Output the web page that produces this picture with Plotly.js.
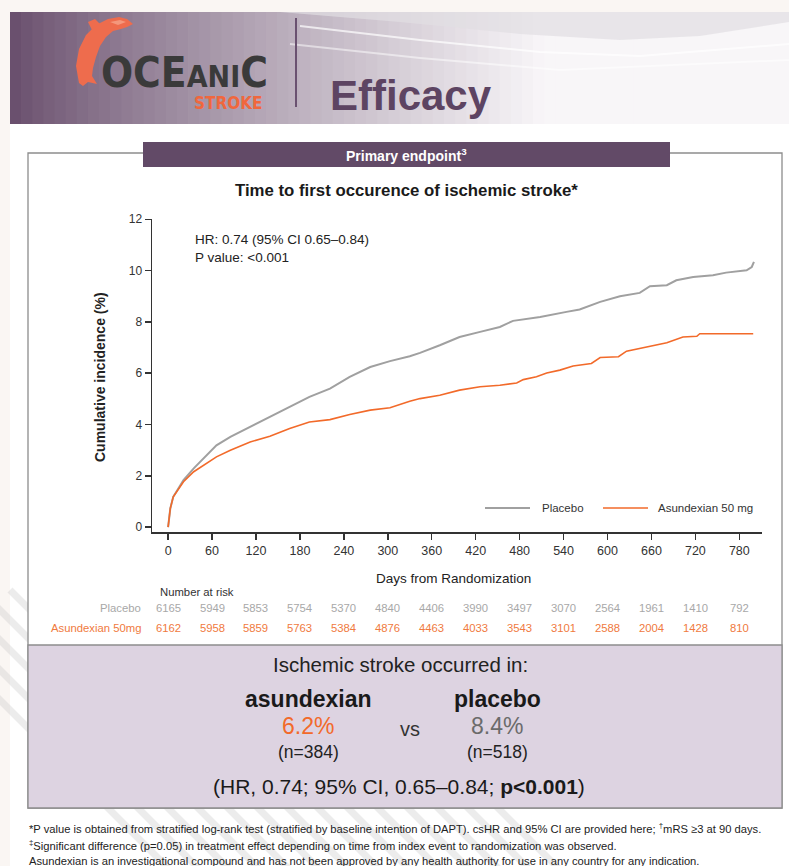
<!DOCTYPE html>
<html>
<head>
<meta charset="utf-8">
<script src="https://cdn.plot.ly/plotly-3.0.1.min.js"></script>
<style>html,body{margin:0;padding:0;background:#fff;}#chart{width:789px;height:866px;}</style>
</head>
<body>
<div id="chart"></div>
<script>
// ---- data ----
const placeboDays = [0, 3, 7, 14, 21, 35, 48, 66, 85, 112, 139, 166, 193, 221, 248, 276, 303, 330, 344, 371, 398, 426, 453, 471, 508, 544, 562, 590, 617, 644, 658, 681, 694, 717, 744, 762, 790, 797, 800];
const placeboVals = [0, 0.73, 1.18, 1.5, 1.83, 2.29, 2.68, 3.19, 3.52, 3.91, 4.3, 4.71, 5.08, 5.4, 5.86, 6.24, 6.47, 6.66, 6.79, 7.09, 7.41, 7.61, 7.8, 8.04, 8.19, 8.39, 8.48, 8.78, 9.0, 9.13, 9.39, 9.43, 9.62, 9.75, 9.82, 9.92, 10.01, 10.14, 10.34];
const asunDays = [0, 3, 7, 14, 21, 35, 48, 66, 85, 112, 139, 166, 193, 221, 248, 276, 303, 330, 344, 371, 398, 426, 453, 476, 485, 503, 517, 535, 553, 578, 590, 615, 626, 653, 681, 703, 722, 726, 799];
const asunVals = [0, 0.73, 1.18, 1.5, 1.77, 2.16, 2.39, 2.74, 3.0, 3.32, 3.54, 3.84, 4.1, 4.19, 4.39, 4.56, 4.65, 4.91, 5.01, 5.14, 5.34, 5.47, 5.53, 5.62, 5.75, 5.86, 6.01, 6.12, 6.28, 6.38, 6.61, 6.64, 6.86, 7.02, 7.19, 7.41, 7.44, 7.54, 7.54];
const xTicks = [0, 60, 120, 180, 240, 300, 360, 420, 480, 540, 600, 660, 720, 780];
const yTicks = [0, 2, 4, 6, 8, 10, 12];
const riskPlacebo = [6165, 5949, 5853, 5754, 5370, 4840, 4406, 3990, 3497, 3070, 2564, 1961, 1410, 792];
const riskAsun = [6162, 5958, 5859, 5763, 5384, 4876, 4463, 4033, 3543, 3101, 2588, 2004, 1428, 810];
const seriesNames = ['Placebo', 'Asundexian 50 mg'];
const riskLabels = ['Placebo', 'Asundexian 50mg'];

// ---- geometry helpers (pixel -> paper) ----
const L = 152, R = 762, T = 219, B = 532;
const X = px => (px - L) / (R - L);
const Y = py => (B - py) / (B - T);
const FONT = 'Liberation Sans, Arial, sans-serif';
const NARROW = 'Liberation Sans Narrow, Arial Narrow, DejaVu Sans Condensed, sans-serif';
const GRAY = '#a0a0a0', ORANGE = '#f26a2a';

const shapes = [];
function rect(x0, y0, x1, y1, fill, line) {
  shapes.push({type: 'rect', xref: 'paper', yref: 'paper', x0: X(x0), x1: X(x1), y0: Y(y1), y1: Y(y0),
    fillcolor: fill, line: line || {width: 0}, layer: 'below'});
}
function pathPx(pts, fill, line) {
  let d = pts.map((p, i) => (i ? 'L' : 'M') + X(p[0]) + ',' + Y(p[1])).join(' ') + (fill ? ' Z' : '');
  shapes.push({type: 'path', xref: 'paper', yref: 'paper', path: d, fillcolor: fill || 'rgba(0,0,0,0)',
    line: line || {width: 0}, layer: 'below'});
}
function lerp(a, b, t) { return Math.round(a + (b - a) * t); }

// background off-white margins
rect(0, 0, 789, 12, '#faf6f3');
rect(0, 0, 10, 866, '#faf6f3');
// diagonal stripes bottom-left
for (let i = 0; i < 14; i++) {
  const x0 = 10 + i * 30 - 120, y0 = 590;
  pathPx([[x0, y0], [x0 + 280, y0 + 280]], null, {color: 'rgba(200,200,200,0.35)', width: 7});
}
// header gradient band
const N = 70, hx0 = 10, hx1 = 789;
for (let i = 0; i < N; i++) {
  const t = i / (N - 1);
  const e = Math.min(1, Math.pow(t * 1.45, 0.85));
  const c = 'rgb(' + lerp(106, 248, e) + ',' + lerp(80, 246, e) + ',' + lerp(110, 248, e) + ')';
  rect(hx0 + (hx1 - hx0) * i / N, 12, hx0 + (hx1 - hx0) * (i + 1) / N + 0.8, 124, c);
}
// swoosh curves at top of header
pathPx([[280, 12], [400, 22], [520, 34], [620, 40], [700, 36], [789, 22], [789, 12]], 'rgba(225,222,226,0.7)');
pathPx([[300, 26], [420, 40], [540, 52], [640, 56], [789, 44]], null, {color: 'rgba(255,255,255,0.7)', width: 2});
pathPx([[290, 44], [420, 58], [560, 70], [789, 60]], null, {color: 'rgba(255,255,255,0.5)', width: 2});
// dolphin logo
pathPx([[79, 83], [76, 66], [79, 49], [86, 35], [96, 25], [108, 19], [119, 17], [127, 19], [133, 24], [127, 27],
        [121, 29], [113, 31], [106, 37], [100, 46], [96, 57], [93, 68], [92, 76], [97, 84], [88, 82], [83, 86]], '#ee6c4d');
pathPx([[92, 30], [88, 22], [95, 19], [100, 24]], '#ee6c4d');
pathPx([[110, 22], [120, 20], [126, 22], [118, 25]], '#f4977c');
// divider line
shapes.push({type: 'line', xref: 'paper', yref: 'paper', x0: X(296), x1: X(296), y0: Y(18), y1: Y(107),
  line: {color: '#6a5170', width: 2}, layer: 'below'});
// main white box with border
rect(28, 153, 782, 808, '#ffffff', {color: '#8d8d8d', width: 1.3});
// lavender results box
rect(28, 645, 782, 808, '#ddd3e1', {color: '#8d8d8d', width: 1.3});
// tab
rect(143, 142, 670, 167, '#624a67');
// legend line samples
shapes.push({type: 'line', xref: 'paper', yref: 'paper', x0: X(485), x1: X(530), y0: Y(508), y1: Y(508),
  line: {color: GRAY, width: 2}});
shapes.push({type: 'line', xref: 'paper', yref: 'paper', x0: X(603), x1: X(648), y0: Y(508), y1: Y(508),
  line: {color: ORANGE, width: 1.6}});

// ---- annotations ----
const ann = [];
function txt(text, px, py, size, color, opts) {
  ann.push(Object.assign({text: text, xref: 'paper', yref: 'paper', x: X(px), y: Y(py), showarrow: false,
    xanchor: 'center', yanchor: 'middle', font: {family: FONT, size: size, color: color}}, opts || {}));
}
// header texts
txt('<b>OCE<span style="font-size:30px">ANI</span>C</b>', 184, 72, 42, '#3a3a3a', {font: {family: NARROW, size: 42, color: '#3a3a3a'}});
txt('<b>STROKE</b>', 265, 103, 17, '#f0673d', {xanchor: 'right', font: {family: NARROW, size: 17, color: '#f0673d'}});
txt('<b>Efficacy</b>', 328, 96, 42, '#5d4462', {xanchor: 'left'});
txt('<b>Primary endpoint<sup>3</sup></b>', 406, 155, 14, '#ffffff');
txt('<b>Time to first occurence of ischemic stroke*</b>', 406, 191, 16.8, '#1a1a1a');
txt('HR: 0.74 (95% CI 0.65–0.84)<br>P value: &lt;0.001', 193, 248, 13.5, '#222', {xanchor: 'left', align: 'left'});
txt('Days from Randomization', 453, 578, 13.5, '#222');
txt('<b>Cumulative incidence (%)</b>', 100, 377, 14, '#222', {textangle: -90});
// legend texts
txt(seriesNames[0], 540, 508, 11.5, '#333', {xanchor: 'left'});
txt(seriesNames[1], 656, 508, 11.5, '#333', {xanchor: 'left'});
// number at risk
txt('Number at risk', 158, 592, 11.3, '#333', {xanchor: 'left'});
txt(riskLabels[0], 143, 608, 11.3, '#a8a8a8', {xanchor: 'right'});
txt(riskLabels[1], 143, 628, 11.3, '#f07a40', {xanchor: 'right'});
xTicks.forEach((d, i) => {
  ann.push({text: String(riskPlacebo[i]), xref: 'x', yref: 'paper', x: d, y: Y(608), showarrow: false,
    xanchor: 'center', yanchor: 'middle', font: {family: FONT, size: 11.3, color: '#a8a8a8'}});
  ann.push({text: String(riskAsun[i]), xref: 'x', yref: 'paper', x: d, y: Y(628), showarrow: false,
    xanchor: 'center', yanchor: 'middle', font: {family: FONT, size: 11.3, color: '#f07a40'}});
});
// results box
txt('Ischemic stroke occurred in:', 400, 664, 20.5, '#222');
txt('<b>asundexian</b>', 308, 699, 23, '#1a1a1a');
txt('<b>placebo</b>', 497, 699, 23, '#1a1a1a');
txt('6.2%', 308, 726, 23, '#f26a2a');
txt('vs', 410, 729, 20, '#333');
txt('8.4%', 497, 726, 23, '#6b6b6b');
txt('(n=384)', 308, 752, 17.5, '#222');
txt('(n=518)', 497, 752, 17.5, '#222');
txt('(HR, 0.74; 95% CI, 0.65–0.84; <b>p&lt;0.001</b>)', 399, 786, 21, '#1a1a1a');
// footnotes
const fn = [
  '*P value is obtained from stratified log-rank test (stratified by baseline intention of DAPT). csHR and 95% CI are provided here; <sup>†</sup>mRS ≥3 at 90 days.',
  '<sup>‡</sup>Significant difference (p=0.05) in treatment effect depending on time from index event to randomization was observed.',
  'Asundexian is an investigational compound and has not been approved by any health authority for use in any country for any indication.'
];
fn.forEach((t, i) => txt(t, 27, 828 + i * 16.5, 11.2, '#222', {xanchor: 'left'}));

// ---- traces ----
const traces = [
  {x: placeboDays, y: placeboVals, type: 'scatter', mode: 'lines', name: seriesNames[0],
   line: {color: GRAY, width: 2, shape: 'linear'}},
  {x: asunDays, y: asunVals, type: 'scatter', mode: 'lines', name: seriesNames[1],
   line: {color: ORANGE, width: 1.6, shape: 'linear'}}
];

const layout = {
  width: 789, height: 866,
  margin: {l: L, r: 789 - R, t: T, b: 866 - B, pad: 0},
  paper_bgcolor: '#ffffff', plot_bgcolor: 'rgba(0,0,0,0)',
  font: {family: FONT, color: '#333'},
  showlegend: false,
  xaxis: {range: [-22, 811], tickvals: xTicks, ticktext: xTicks.map(String), ticks: 'outside', ticklen: 6,
    tickwidth: 1.5, tickcolor: '#333', showline: true, linecolor: '#333', linewidth: 1.5, showgrid: false,
    zeroline: false, tickfont: {family: FONT, size: 12.5, color: '#333'}, fixedrange: true},
  yaxis: {range: [-0.19, 12.01], tickvals: yTicks, ticks: 'outside', ticklen: 6, tickwidth: 1.5,
    tickcolor: '#333', showline: true, linecolor: '#333', linewidth: 1.5, showgrid: false, zeroline: false,
    tickfont: {family: FONT, size: 12, color: '#333'}, fixedrange: true},
  shapes: shapes,
  annotations: ann
};

Plotly.newPlot('chart', traces, layout, {displayModeBar: false, staticPlot: true});
</script>
</body>
</html>
